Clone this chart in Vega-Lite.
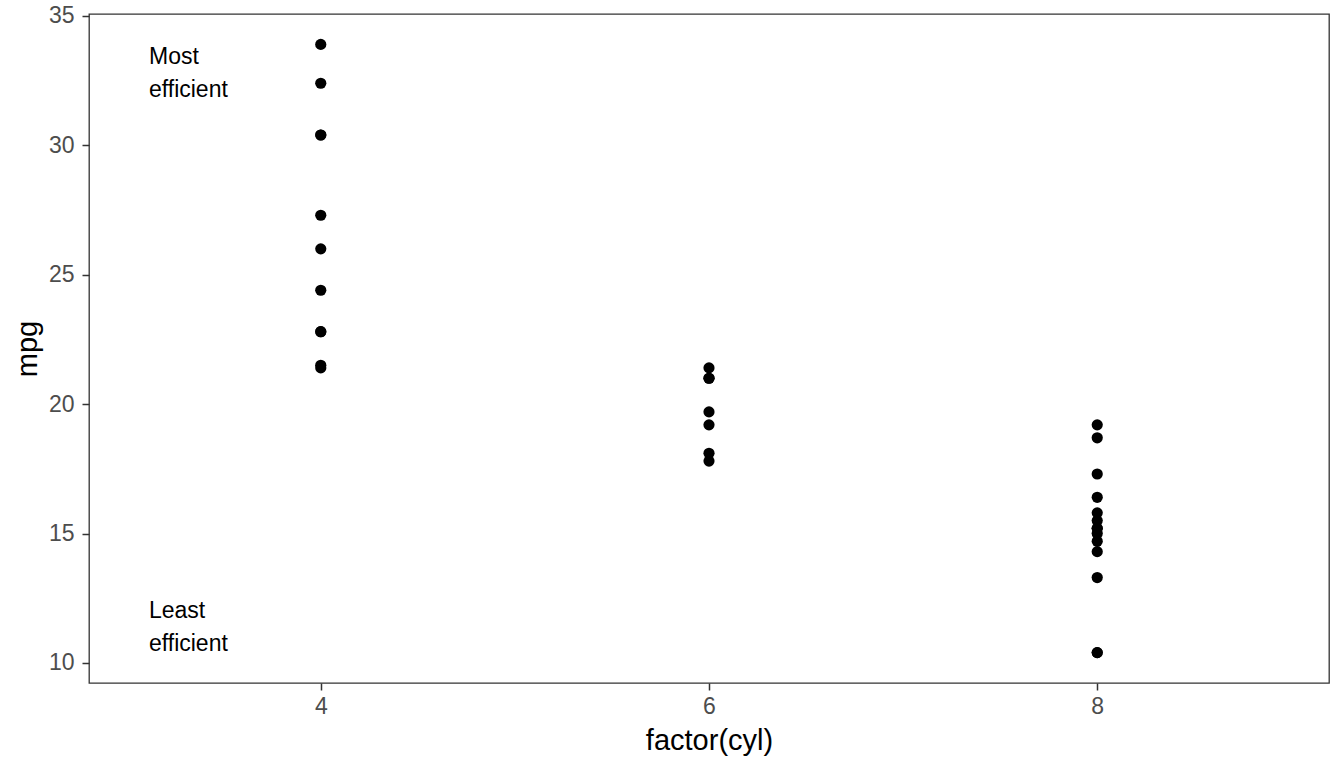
{
  "$schema": "https://vega.github.io/schema/vega-lite/v6.json",
  "width": 1240,
  "height": 669,
  "autosize": {"type": "none"},
  "padding": {"left": 89, "top": 14, "right": 15, "bottom": 85},
  "background": "white",
  "datasets": {
    "cars": [
      {"cyl": 6, "mpg": 21.0}, {"cyl": 6, "mpg": 21.0}, {"cyl": 4, "mpg": 22.8},
      {"cyl": 6, "mpg": 21.4}, {"cyl": 8, "mpg": 18.7}, {"cyl": 6, "mpg": 18.1},
      {"cyl": 8, "mpg": 14.3}, {"cyl": 4, "mpg": 24.4}, {"cyl": 4, "mpg": 22.8},
      {"cyl": 6, "mpg": 19.2}, {"cyl": 6, "mpg": 17.8}, {"cyl": 8, "mpg": 16.4},
      {"cyl": 8, "mpg": 17.3}, {"cyl": 8, "mpg": 15.2}, {"cyl": 8, "mpg": 10.4},
      {"cyl": 8, "mpg": 10.4}, {"cyl": 8, "mpg": 14.7}, {"cyl": 4, "mpg": 32.4},
      {"cyl": 4, "mpg": 30.4}, {"cyl": 4, "mpg": 33.9}, {"cyl": 4, "mpg": 21.5},
      {"cyl": 8, "mpg": 15.5}, {"cyl": 8, "mpg": 15.2}, {"cyl": 8, "mpg": 13.3},
      {"cyl": 8, "mpg": 19.2}, {"cyl": 4, "mpg": 27.3}, {"cyl": 4, "mpg": 26.0},
      {"cyl": 4, "mpg": 30.4}, {"cyl": 8, "mpg": 15.8}, {"cyl": 6, "mpg": 19.7},
      {"cyl": 8, "mpg": 15.0}, {"cyl": 4, "mpg": 21.4}
    ],
    "notes": [
      {"cyl": 3.115, "mpg": 33.13, "label": "Most\nefficient"},
      {"cyl": 3.115, "mpg": 11.73, "label": "Least\nefficient"}
    ]
  },
  "encoding": {
    "x": {
      "field": "cyl",
      "type": "quantitative",
      "title": "factor(cyl)",
      "scale": {"domain": [2.806, 9.194], "nice": false, "zero": false},
      "axis": {"values": [4, 6, 8], "format": "d"}
    },
    "y": {
      "field": "mpg",
      "type": "quantitative",
      "title": "mpg",
      "scale": {"domain": [9.225, 35.075], "nice": false, "zero": false},
      "axis": {"values": [10, 15, 20, 25, 30, 35]}
    }
  },
  "layer": [
    {
      "data": {"name": "cars"},
      "mark": {"type": "circle", "size": 125, "color": "black", "opacity": 1}
    },
    {
      "data": {"name": "notes"},
      "mark": {
        "type": "text",
        "align": "left",
        "baseline": "alphabetic",
        "lineBreak": "\n",
        "lineHeight": 33,
        "font": "Liberation Sans",
        "fontSize": 23,
        "color": "black"
      },
      "encoding": {"text": {"field": "label"}}
    }
  ],
  "config": {
    "view": {"stroke": "#333333", "strokeWidth": 1.3},
    "axis": {
      "grid": false,
      "domain": false,
      "ticks": true,
      "tickColor": "#333333",
      "tickWidth": 1.5,
      "tickSize": 7,
      "labelFont": "Liberation Sans",
      "labelFontSize": 23,
      "labelColor": "#4D4D4D",
      "titleFont": "Liberation Sans",
      "titleFontSize": 29,
      "titleFontWeight": "normal",
      "titleColor": "black"
    },
    "axisX": {"labelPadding": 5, "titlePadding": 8},
    "axisY": {"labelPadding": 8, "titlePadding": 6}
  }
}
